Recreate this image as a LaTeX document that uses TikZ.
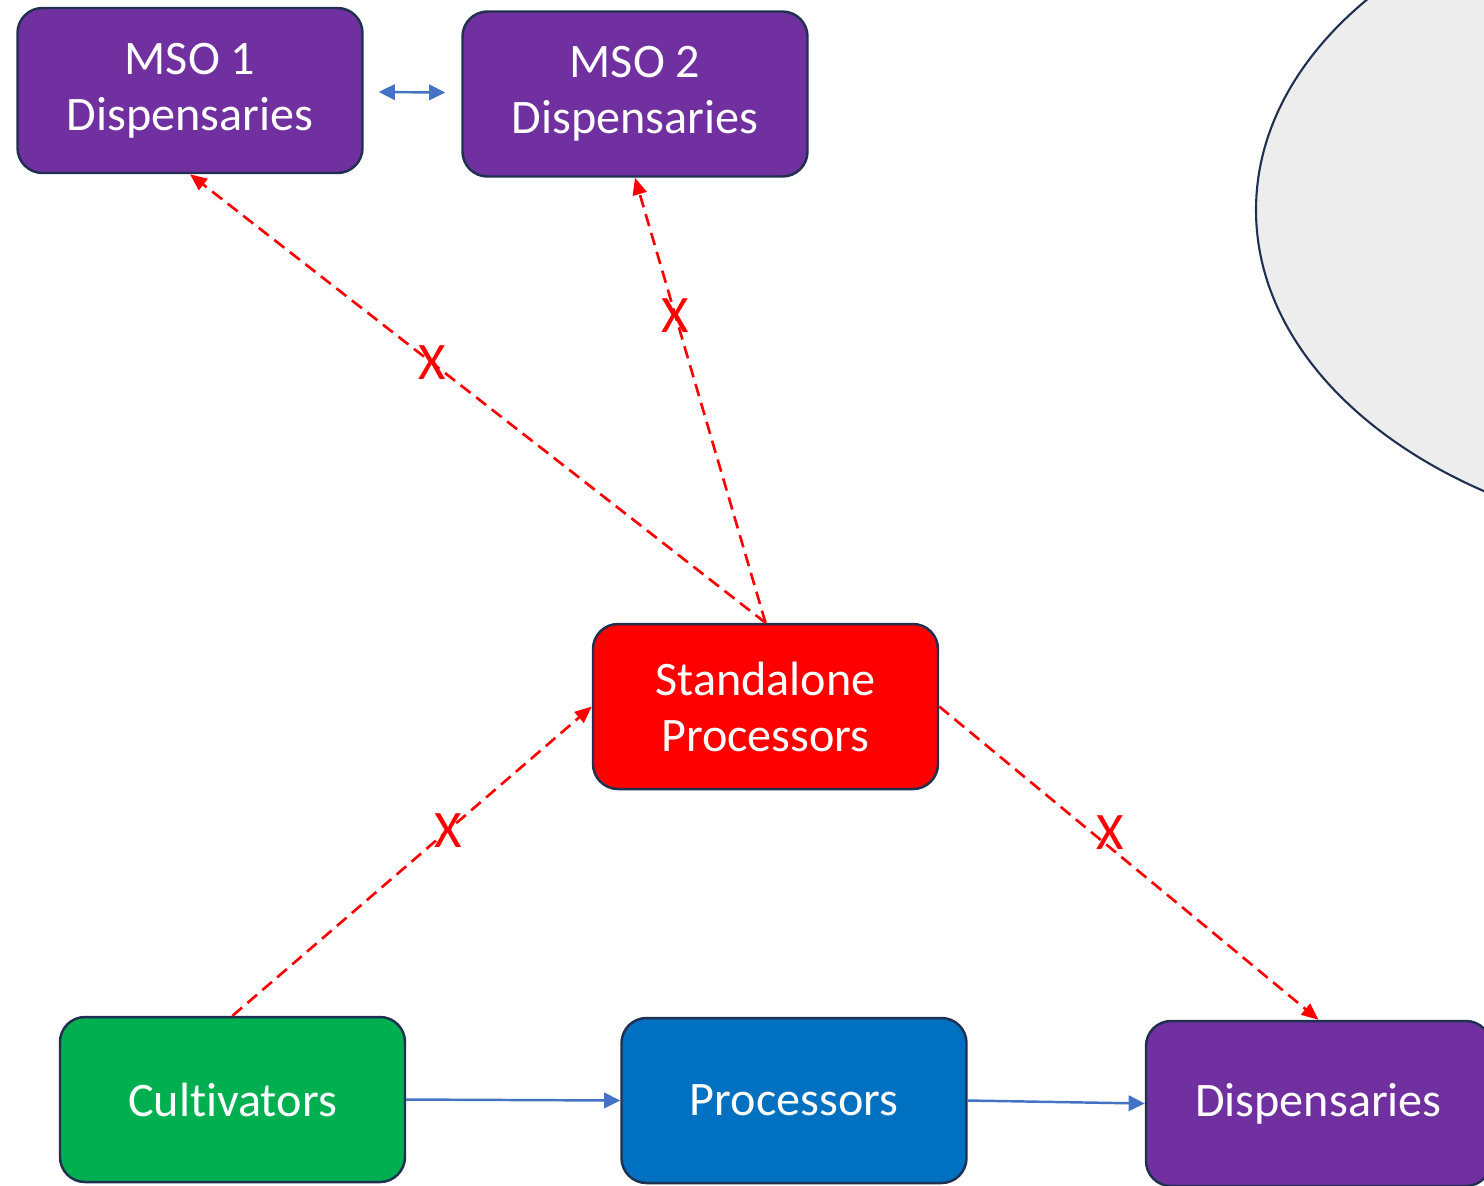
\documentclass[tikz,border=0pt]{standalone}
\usepackage{fontspec}
\setmainfont{Carlito}[Ligatures=NoCommon]
\usetikzlibrary{arrows.meta}
\definecolor{msopurple}{HTML}{7030A0}
\definecolor{procblue}{HTML}{0070C0}
\definecolor{cultgreen}{HTML}{00B050}
\definecolor{boxline}{HTML}{1F3050}
\definecolor{flowblue}{HTML}{4472C4}
\definecolor{blobgray}{HTML}{EDEDED}

\begin{document}
\begin{tikzpicture}
    [
    box/.style = {draw=boxline,line width=0.7pt,rounded corners=0.25cm,minimum width=3.45cm,minimum height=1.65cm,align=center,text=white,font=\fontsize{13.7}{15.9}\selectfont},
    blocked/.style = {-{Triangle[length=4.8pt,width=4pt]},color=red,line width=0.75pt,dash pattern=on 3.6pt off 2pt},
    flow/.style = {-{Triangle[length=4.6pt,width=4.4pt]},color=flowblue,line width=0.7pt},
    cross/.style = {text=red,inner sep=0pt,font=\fontsize{15}{15}\selectfont}
    ]
\clip (0,0) rectangle (14.84,-11.85);
\useasboundingbox (0,0) rectangle (14.84,-11.85);
\draw[boxline,fill=blobgray,line width=0.6pt] (17.56,-2.1) ellipse (5cm and 3.35cm);

\node[box,fill=msopurple] (mso1) at (1.9,-0.905) {MSO 1\\Dispensaries};
\node[box,fill=msopurple] (mso2) at (6.35,-0.94) {MSO 2\\Dispensaries};
\node[box,fill=red] (sap) at (7.655,-7.065) {Standalone\\Processors};
\node[box,fill=cultgreen] (cult) at (2.325,-10.995) {Cultivators};
\node[box,fill=procblue] (proc) at (7.94,-11.005) {Processors};
\node[box,fill=msopurple] (disp) at (13.185,-11.035) {Dispensaries};

\draw[{Triangle[length=4.6pt,width=4.4pt]}-{Triangle[length=4.6pt,width=4.4pt]},color=flowblue,line width=0.7pt,shorten <=0.15cm,shorten >=0.16cm] (mso1) -- (mso2);

\draw[blocked] (sap.north) -- node[cross,pos=0.58]{X} (mso1.south);
\draw[blocked] (sap.north) -- node[cross,pos=0.69]{X} (mso2.south);
\draw[blocked] (cult.north) -- node[cross,pos=0.6]{X} (sap.west);
\draw[blocked] (sap.east) -- node[cross,pos=0.45,yshift=0.15cm]{X} (disp.north);

\draw[flow] (cult.east) -- (proc.west);
\draw[flow] (proc.east) -- (disp.west);
\end{tikzpicture}
\end{document}
